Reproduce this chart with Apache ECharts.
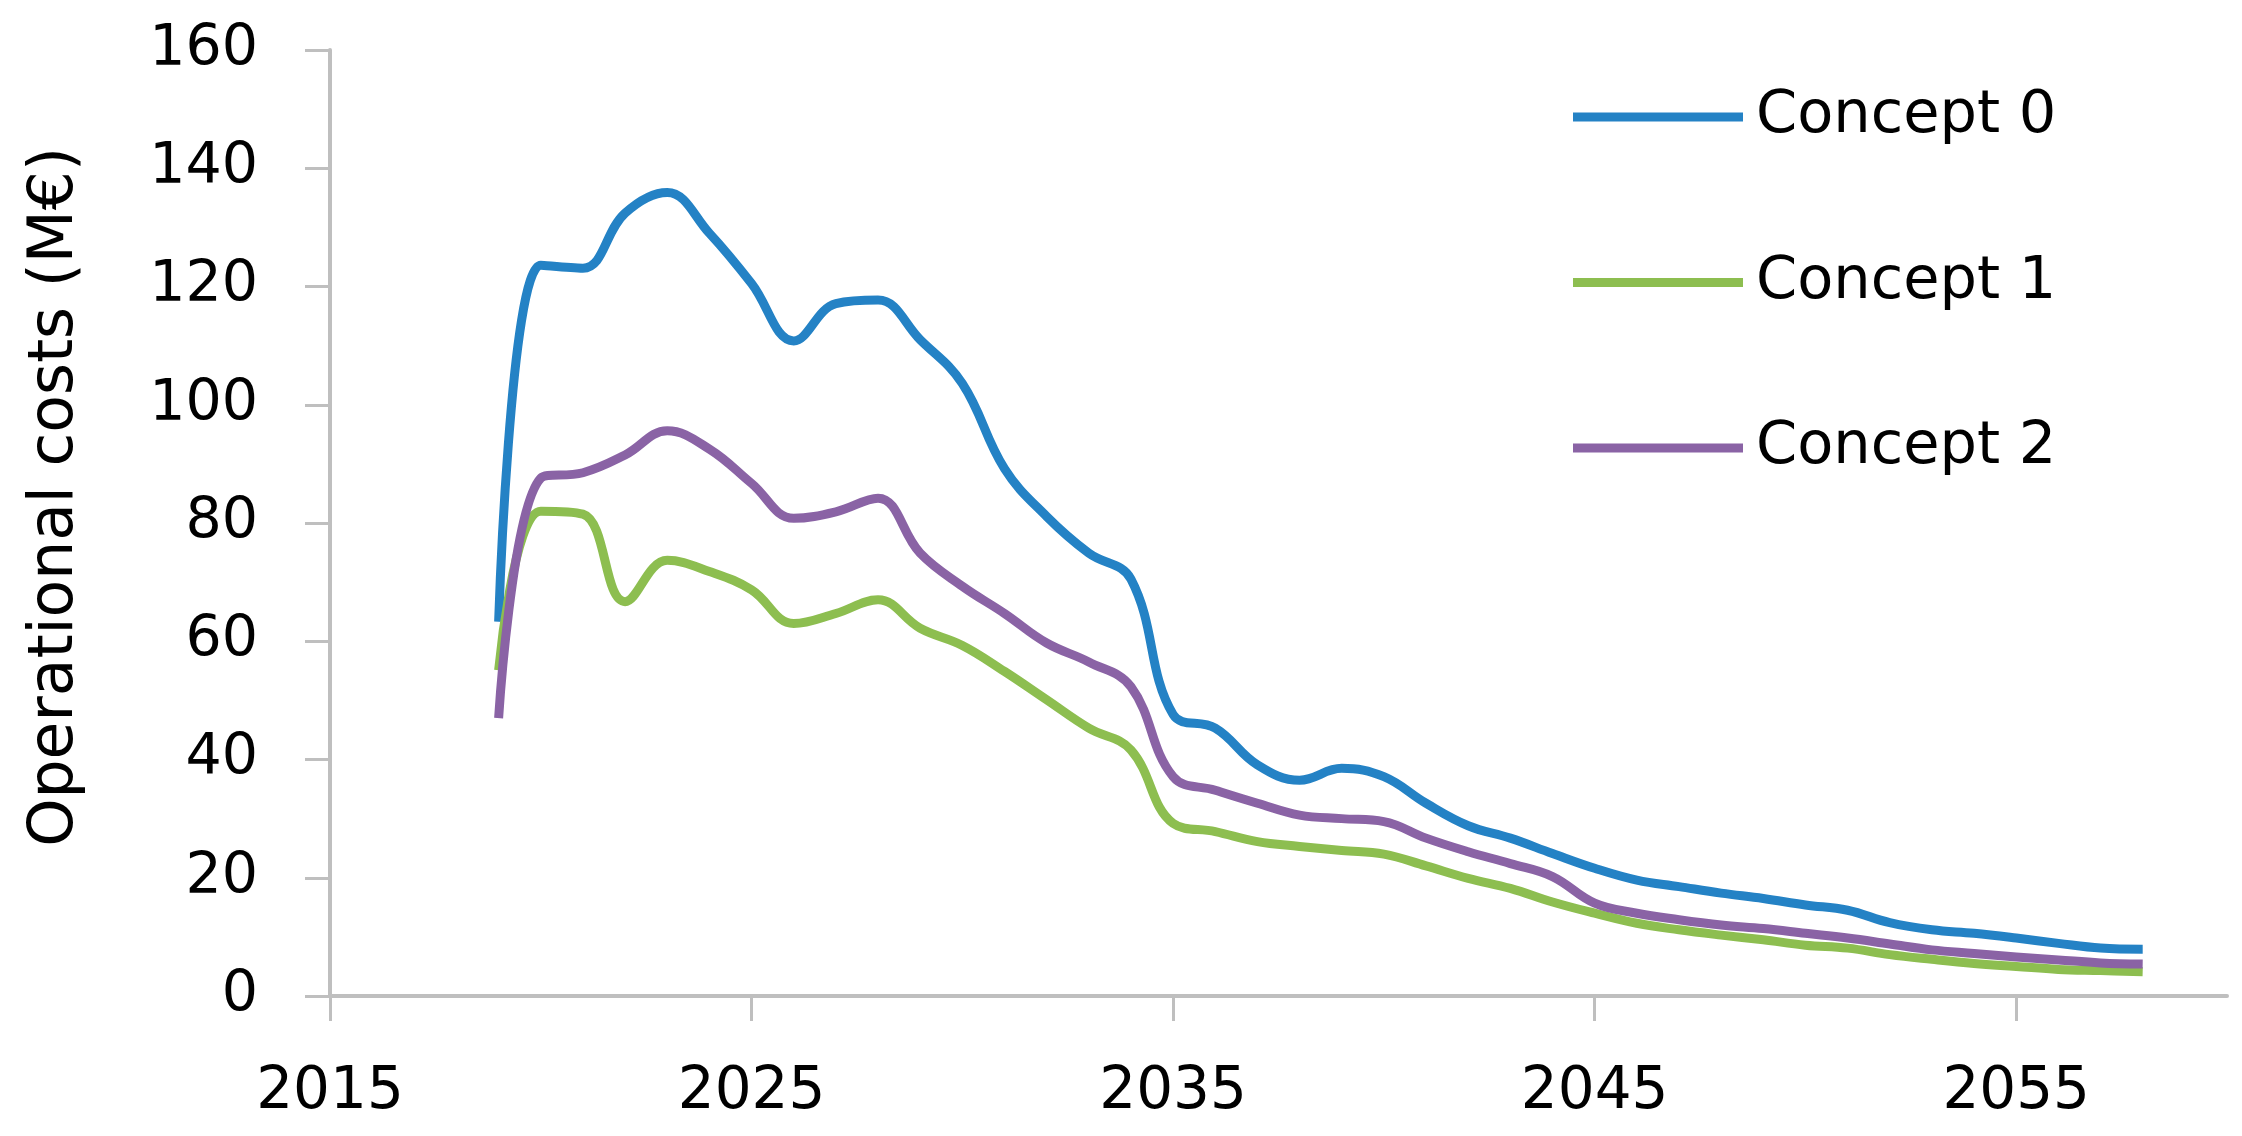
<!DOCTYPE html>
<html>
<head>
<meta charset="utf-8">
<script src="https://cdn.jsdelivr.net/npm/echarts@6/dist/echarts.min.js"></script>
<style>
html,body{margin:0;padding:0;background:#ffffff;}
#chart{width:2242px;height:1136px;}
</style>
</head>
<body>
<div id="chart"></div>
<script>
// ---- data ----
const years = [2019,2020,2021,2022,2023,2024,2025,2026,2027,2028,
               2029,2030,2031,2032,2033,2034,2035,2036,2037,2038,
               2039,2040,2041,2042,2043,2044,2045,2046,2047,2048,
               2049,2050,2051,2052,2053,2054,2055,2056,2057,2058];
const concept0 = [63.3,123.6,123.1,132.4,135.9,129.0,120.5,110.8,117.1,117.7,
                  111.0,103.6,89.2,81.1,74.9,70.5,47.6,45.3,39.1,36.5,
                  38.5,37.1,32.6,28.8,26.7,24.1,21.6,19.6,18.5,17.4,
                  16.5,15.4,14.5,12.4,11.2,10.6,9.8,8.9,8.1,7.9];
const concept1 = [55.1,82.0,81.5,66.7,73.7,71.8,68.7,63.0,64.7,67.0,
                  62.2,59.3,54.9,50.1,45.3,41.6,29.2,27.8,26.1,25.3,
                  24.6,24.0,22.0,19.9,18.2,15.9,14.0,12.3,11.2,10.3,
                  9.5,8.6,8.1,7.0,6.2,5.5,5.0,4.5,4.3,4.1];
const concept2 = [47.0,87.6,88.5,91.5,95.6,92.5,86.7,80.8,81.9,84.2,
                  74.9,69.3,64.7,59.7,56.5,52.3,37.1,34.8,32.6,30.6,
                  30.0,29.5,26.7,24.4,22.4,20.2,15.7,14.0,12.9,12.0,
                  11.4,10.6,9.8,8.8,7.8,7.2,6.6,6.1,5.6,5.4];
const seriesNames = ['Concept 0','Concept 1','Concept 2'];
const xTicks = [2015,2025,2035,2045,2055];
const yTitle = 'Operational costs (M\u20AC)';

// ---- styling ----
const colors = ['#2482C5','#8DBE50','#8A63A5'];
const FONT = 'DejaVu Sans';
const axisGrey = '#BFBFBF';

const seriesValues = [concept0, concept1, concept2];

const chart = echarts.init(document.getElementById('chart'), null, {renderer:'canvas'});

const option = {
  animation: false,
  backgroundColor: '#ffffff',
  color: colors,
  grid: {left: 330, right: 15, top: 50, bottom: 140, containLabel: false},
  legend: {
    orient: 'vertical',
    left: 1573,
    top: 87,
    padding: 0,
    icon: 'rect',
    itemWidth: 170,
    itemHeight: 9,
    itemGap: 105.5,
    data: seriesNames,
    textStyle: {fontFamily: FONT, fontSize: 59, lineHeight: 60, color: '#000000', padding: [0,0,0,8]}
  },
  xAxis: {
    type: 'value',
    min: 2015,
    max: 2060,
    interval: 10,
    splitLine: {show: false},
    axisLine: {show: true, onZero: false, lineStyle: {color: axisGrey, width: 4}},
    axisTick: {show: true, inside: false, length: 25, customValues: xTicks, lineStyle: {color: axisGrey, width: 3}},
    axisLabel: {
      customValues: xTicks,
      margin: 68,
      fontFamily: FONT, fontSize: 58, color: '#000000',
      formatter: function (v) { return String(v); }
    }
  },
  yAxis: {
    type: 'value',
    min: 0,
    max: 160,
    interval: 20,
    splitLine: {show: false},
    axisLine: {show: true, lineStyle: {color: axisGrey, width: 4}},
    axisTick: {show: true, inside: false, length: 25, lineStyle: {color: axisGrey, width: 3}},
    axisLabel: {margin: 72, fontFamily: FONT, fontSize: 57, color: '#000000'}
  },
  graphic: [{
    type: 'text',
    x: 56,
    y: 497,
    rotation: Math.PI / 2,
    style: {
      text: yTitle,
      fontFamily: FONT,
      fontSize: 61.5,
      fill: '#000000',
      textAlign: 'center',
      textVerticalAlign: 'middle'
    }
  }],
  series: seriesNames.map(function (name, i) {
    return {
      name: name,
      type: 'line',
      data: years.map(function (y, k) { return [y, seriesValues[i][k]]; }),
      smooth: 0.4,
      showSymbol: false,
      symbol: 'none',
      lineStyle: {color: colors[i], width: 9, cap: 'butt', join: 'round'},
      itemStyle: {color: colors[i]},
      z: 2 + i
    };
  })
};

chart.setOption(option);
</script>
</body>
</html>
